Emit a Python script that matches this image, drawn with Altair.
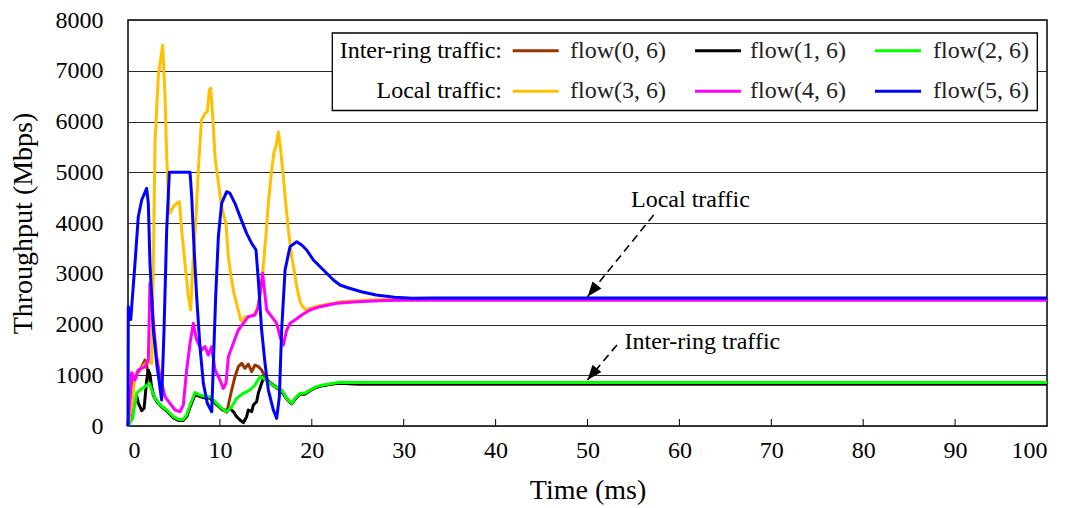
import altair as alt
import pandas as pd

FONT = "Liberation Serif"

names = ["flow(0, 6)", "flow(1, 6)", "flow(2, 6)", "flow(3, 6)", "flow(4, 6)", "flow(5, 6)"]
colors = ["#993300", "#000000", "#00FF00", "#FFC000", "#FF00FF", "#0000FF"]
groups = ["Inter-ring traffic:", "Local traffic:"]

tail = [25, 30, 40, 50, 60, 70, 80, 90, 100]

# flow(0, 6)
t0 = [0, 0.4, 0.7, 1.0, 1.3, 1.67, 1.85, 2.03, 2.21, 2.5, 2.9, 3.5, 4.2, 4.9, 5.5, 6.0, 6.4,
      6.75, 7.3, 7.85, 8.4, 8.9, 9.65, 10.2, 10.75, 11.28, 11.64, 12.0, 12.37, 12.73, 13.09,
      13.46, 13.82, 14.18, 14.54, 14.9, 15.45, 16.18, 16.72, 17.27, 17.81, 18.17, 18.72,
      19.26, 19.8, 20.53, 21.26, 22.35, 23.07] + tail
v0 = [0, 850, 1000, 1050, 1100, 1235, 1300, 1200, 1000, 800, 560, 400, 300, 170, 110, 110, 190,
      380, 630, 590, 560, 560, 430, 330, 270, 709, 972, 1169, 1235, 1136, 1220,
      1070, 1202, 1169, 1103, 972, 841, 742, 700, 540, 440, 530, 630,
      630, 700, 765, 800, 830, 840] + [830] * len(tail)

# flow(1, 6)
t1 = [0, 0.5, 0.8, 0.94, 1.12, 1.31, 1.49, 1.75, 2.03, 2.21, 2.39, 2.58, 2.76, 3.12, 3.66,
      4.2, 4.9, 5.5, 6.0, 6.4, 6.75, 7.3, 7.85, 8.4, 8.9, 9.65, 10.2, 10.74, 11.1, 11.46,
      11.82, 12.19, 12.55, 12.91, 13.09, 13.46, 13.64, 14.0, 14.18, 14.54, 14.73, 15.09,
      15.82, 16.54, 17.27, 17.81, 18.17, 18.72, 19.26, 19.8, 20.53, 21.26, 22.35, 23.07] + tail
v1 = [0, 300, 500, 600, 450, 380, 300, 350, 900, 1100, 1020, 750, 600, 480, 381,
      300, 170, 110, 110, 190, 380, 620, 580, 550, 550, 420, 330, 300, 348, 282,
      184, 118, 65, 184, 315, 282, 414, 480, 644, 841, 940, 906,
      808, 720, 540, 440, 530, 630, 630, 700, 765, 800, 830, 840] + [830] * len(tail)

# flow(2, 6)
t2 = [0, 0.5, 0.94, 1.31, 1.85, 2.32, 2.58, 2.94, 3.48, 4.21, 4.93, 5.48, 6.02, 6.38, 6.75,
      7.29, 7.83, 8.38, 8.92, 9.65, 10.19, 10.74, 11.28, 11.82, 12.55, 13.28, 13.82, 14.36,
      14.73, 15.27, 16.0, 16.72, 17.27, 17.81, 18.17, 18.72, 19.26, 19.8, 20.53, 21.26,
      22.35, 23.07] + tail
v2 = [0, 150, 644, 709, 775, 841, 709, 545, 414, 315, 184, 130, 130, 217, 414,
      660, 610, 578, 578, 447, 348, 282, 381, 545, 644, 709, 808, 972,
      940, 873, 775, 709, 545, 447, 545, 644, 644, 709, 775, 808,
      841, 860] + [855] * len(tail)

# flow(3, 6)
t3 = [0, 0.5, 0.76, 1.12, 1.5, 2.0, 2.4, 2.58, 2.76, 2.94, 3.3, 3.77, 4.03, 4.21, 4.46, 4.57,
      4.93, 5.3, 5.59, 5.84, 6.2, 6.57, 6.82, 7.03, 7.4, 7.65, 8.0, 8.38, 8.63, 8.85, 9.0,
      9.2, 9.47, 9.65, 9.94, 10.19, 10.55, 10.66, 10.92, 11.21, 11.53, 11.9, 12.26, 12.48,
      12.73, 13.1, 13.64, 14.0, 14.36, 14.65, 15.0, 15.27, 15.63, 15.89, 16.1, 16.36, 16.61,
      16.9, 17.2, 17.45, 17.81, 18.07, 18.36, 18.72, 19.0, 19.37, 19.8, 20.35, 21.26, 22.35,
      23.07, 25, 27, 30, 40, 50, 60, 70, 80, 90, 100]
v3 = [0, 500, 1000, 1100, 1150, 1250, 1250, 1235, 3205, 5600, 6900, 7507, 6489, 5307, 4256, 4190,
      4322, 4388, 4420, 3862, 3205, 2548, 2286, 3074, 4120, 5044, 6030, 6161, 6190, 6621, 6654,
      6161, 5307, 5044, 4650, 4320, 4059, 3993, 3337, 2943, 2614, 2351, 2089, 2056,
      2154, 2154, 2187, 2286, 2548, 3008, 3731, 4388, 5044, 5406, 5504, 5800, 5438,
      4913, 4320, 3862, 3337, 3074, 2745, 2450, 2351, 2286, 2318, 2351, 2384, 2417,
      2450, 2470, 2490, 2500, 2500, 2500, 2500, 2500, 2500, 2500, 2500]

# flow(4, 6)
t4 = [0, 0.4, 0.76, 1.12, 1.85, 2.21, 2.39, 2.58, 2.76, 3.12, 3.48, 4.03, 4.57, 5.12, 5.66,
      6.02, 6.38, 6.75, 7.11, 7.47, 8.02, 8.38, 8.74, 9.1, 9.47, 10.01, 10.37, 10.66, 10.92,
      11.46, 12.0, 12.55, 13.09, 13.82, 14.18, 14.65, 15.09, 15.63, 16.18, 16.54, 16.9,
      17.27, 17.63, 18.17, 18.9, 19.8, 20.89, 22.71, 25, 28, 30, 40, 50, 60, 70, 80, 90, 100]
v4 = [0, 1050, 906, 1103, 1169, 1300, 2811, 2548, 2023, 1366, 972, 578, 447, 315, 282,
      414, 1103, 1629, 2023, 1695, 1498, 1563, 1399, 1563, 1103, 906, 742, 842, 1366,
      1629, 1892, 2023, 2154, 2187, 2351, 3008, 2286, 2154, 2023, 1760, 1596,
      1892, 2023, 2088, 2187, 2286, 2351, 2417, 2450, 2475, 2480, 2480, 2480, 2480, 2480,
      2480, 2480, 2480]

# flow(5, 6)
t5 = [0, 0.03, 0.3, 0.76, 1.12, 1.49, 2.03, 2.21, 2.39, 2.76, 3.12, 3.66, 3.92, 4.21, 4.5,
      6.75, 6.93, 7.18, 7.47, 7.83, 8.2, 8.63, 9.11, 9.29, 9.54, 9.83, 10.19, 10.74, 11.1,
      11.64, 12.19, 12.91, 13.46, 13.93, 14.18, 14.54, 14.91, 15.27, 15.82, 16.18, 16.47,
      16.72, 17.09, 17.63, 18.36, 18.9, 19.44, 20.17, 21.26, 22.35, 23.07, 24, 25.5, 27, 29,
      31, 33, 40, 50, 60, 70, 80, 90, 100]
v5 = [0, 2350, 2100, 3205, 4124, 4453, 4683, 4388, 3205, 1892, 1235, 512, 1892, 3862, 5000,
      5000, 4519, 3534, 2548, 1563, 840, 447, 282, 1235, 2548, 3730, 4388, 4617, 4584,
      4388, 4125, 3796, 3599, 3468, 2877, 1892, 1235, 709, 315, 151, 578,
      1892, 3074, 3534, 3632, 3566, 3468, 3271, 3074, 2877, 2778, 2720, 2640, 2580, 2535,
      2515, 2520, 2520, 2520, 2520, 2520, 2520, 2520, 2520]

times = [t0, t1, t2, t3, t4, t5]
values = [v0, v1, v2, v3, v4, v5]

x_ticks = list(range(0, 101, 10))
y_ticks = list(range(0, 8001, 1000))

# annotations (data coordinates)
ann_text = ["Local traffic", "Inter-ring traffic"]
ann_t = [61.2, 62.5]
ann_v = [4453, 1655]
arrow_start_t = [57.2, 53.2]
arrow_start_v = [4158, 1596]
arrow_tip_t = [50, 50]
arrow_tip_v = [2548, 906]

# ---------------- layout ----------------
W, H = 919, 406
PAD = {"left": 128, "top": 20, "right": 23, "bottom": 82}

rows = []
for name, ts, vs in zip(names, times, values):
    for t, v in zip(ts, vs):
        rows.append({"series": name, "t": t, "v": v})
df = pd.DataFrame(rows)

xs = alt.Scale(domain=[0, 100], nice=False, zero=False)
ys = alt.Scale(domain=[0, 8000], nice=False)
cs = alt.Scale(domain=names, range=colors)

X = alt.X("t:Q", scale=xs, axis=alt.Axis(
    values=x_ticks, format="d", title="Time (ms)", grid=False, ticks=False, domain=False,
    labelFont=FONT, labelFontSize=24, labelPadding=12, labelColor="black",
    titleFont=FONT, titleFontSize=28, titleFontWeight="normal", titleColor="black",
    titleX=W / 2, titleY=64, titleBaseline="middle", titleAlign="center"))
Y = alt.Y("v:Q", scale=ys, axis=alt.Axis(
    values=y_ticks, format="d", title="Throughput (Mbps)", grid=True, gridColor="#2a2a2a",
    gridWidth=1, ticks=False, domain=False,
    labelFont=FONT, labelFontSize=24, labelPadding=25, labelColor="black",
    titleFont=FONT, titleFontSize=28, titleFontWeight="normal", titleColor="black",
    titleX=-105, titleY=H / 2, titleBaseline="middle", titleAlign="center", titleAngle=270))

layers = []
for name in names:
    layers.append(
        alt.Chart(df[df.series == name]).mark_line(strokeWidth=3, strokeJoin="round").encode(
            x=X, y=Y, color=alt.Color("series:N", scale=cs, legend=None), order="t:Q"
        )
    )

# inner x ticks
tick_df = pd.DataFrame({"t": x_ticks[1:-1]})
layers.append(alt.Chart(tick_df).mark_rule(color="black", strokeWidth=1).encode(
    x=X, y=alt.value(H), y2=alt.value(H - 7)))

# annotations
ann_df = pd.DataFrame({"label": ann_text, "t": ann_t, "v": ann_v})
layers.append(alt.Chart(ann_df).mark_text(font=FONT, fontSize=24, align="center",
                                          baseline="middle", color="black").encode(
    x=X, y=Y, text="label:N"))

arr_rows = []
for i in range(len(arrow_tip_t)):
    arr_rows.append({"g": i, "k": 0, "t": arrow_start_t[i], "v": arrow_start_v[i]})
    arr_rows.append({"g": i, "k": 1, "t": arrow_tip_t[i], "v": arrow_tip_v[i]})
arr_df = pd.DataFrame(arr_rows)
layers.append(alt.Chart(arr_df).mark_line(color="black", strokeWidth=1.6, strokeDash=[8, 5]).encode(
    x=X, y=Y, detail="g:N", order="k:Q"))
tip_df = pd.DataFrame({"t": arrow_tip_t, "v": arrow_tip_v})
layers.append(alt.Chart(tip_df).mark_point(
    shape="M0,0 L0.38,1 L-0.38,1 Z", filled=True, color="black", opacity=1, size=900,
    angle=219, strokeWidth=0).encode(x=X, y=Y))

# legend box
layers.append(alt.Chart(pd.DataFrame({"a": [0]})).mark_rect(
    fill="white", stroke="black", strokeWidth=1.3).encode(
    x=alt.value(204.3), x2=alt.value(909.3), y=alt.value(13), y2=alt.value(90.5)))

col_line_x = [384.7, 567, 747]
col_text_x = [442, 622, 805]
row_y = [30.7, 71.3]
leg_rows = []
for i, name in enumerate(names):
    r, c = divmod(i, 3)
    leg_rows.append({"series": name, "x1": col_line_x[c], "x2": col_line_x[c] + 46,
                     "tx": col_text_x[c], "y": row_y[r]})
leg_df = pd.DataFrame(leg_rows)
layers.append(alt.Chart(leg_df).mark_rule(strokeWidth=3).encode(
    x=alt.X("x1:Q", scale=None, axis=None), x2="x2:Q",
    y=alt.Y("y:Q", scale=None, axis=None),
    color=alt.Color("series:N", scale=cs, legend=None)))
layers.append(alt.Chart(leg_df).mark_text(font=FONT, fontSize=24, align="left",
                                          baseline="middle", color="#222222").encode(
    x=alt.X("tx:Q", scale=None, axis=None), y=alt.Y("y:Q", scale=None, axis=None),
    text="series:N"))
grp_df = pd.DataFrame({"label": groups, "x": [374, 374], "y": row_y})
layers.append(alt.Chart(grp_df).mark_text(font=FONT, fontSize=24, align="right",
                                          baseline="middle", color="black").encode(
    x=alt.X("x:Q", scale=None, axis=None), y=alt.Y("y:Q", scale=None, axis=None),
    text="label:N"))

chart = alt.layer(*layers).properties(
    width=W, height=H,
    autosize=alt.AutoSizeParams(type="none"),
    padding=PAD,
    background="white",
).configure_view(stroke="black", strokeWidth=1.5)

chart.save("out.html", embed_options={"renderer": "svg", "actions": False})
